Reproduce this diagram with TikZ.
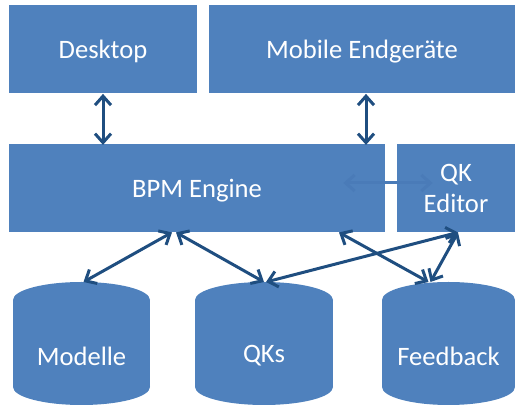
\documentclass[tikz,border=0pt]{standalone}
\usepackage{fontspec}
\setmainfont{Carlito}
\usetikzlibrary{arrows.meta}
\definecolor{boxblue}{HTML}{4F81BD}
\definecolor{linkblue}{HTML}{1F4E80}
\definecolor{fadeblue}{HTML}{4A7BB8}
\begin{document}
\begin{tikzpicture}[x=0.5pt, y=-0.5pt, font=\fontsize{13.3}{15.5}\selectfont, line join=round, line cap=round,
	box/.style={fill=boxblue, text=white, align=center, inner sep=0pt, text depth=0pt, minimum height=44pt},
	link/.style={draw=linkblue, line width=1.5pt, {Straight Barb[length=4.5pt,width=8pt]}-{Straight Barb[length=4.5pt,width=8pt]}}]
	\useasboundingbox (0,0) rectangle (515,406);
	\node[box, minimum width=94pt] (desk) at (103,49.5) {Desktop};
	\node[box, minimum width=153pt] (mob) at (362,49.5) {Mobile Endgeräte};
	\node[box, minimum width=188pt] (bpm) at (197,188) {BPM Engine};
	\node[box, minimum width=59pt] (qked) at (456,188) {QK\\Editor};
	\foreach \nm/\x/\w/\t in {mod/81.5/137/Modelle, qks/264/138/QKs, fb/448.5/133/Feedback} {
		\fill[boxblue] (\x-\w/2,300) rectangle (\x+\w/2,387);
		\fill[boxblue] (\x,300) ellipse [x radius=\w/2, y radius=18];
		\fill[boxblue] (\x,387) ellipse [x radius=\w/2, y radius=18];
		\node[text=white] (\nm) at (\x,356) {\t};
		\coordinate (\nm-top) at (\x,282);}
	\draw[link] (desk.south) -- ++(0,51);
	\draw[link] ([xshift=2pt]mob.south) -- ++(0,51);
	\draw[link, draw=fadeblue] ([xshift=-21pt,yshift=2.5pt]bpm.east) -- ([xshift=18pt,yshift=2.5pt]qked.west);
	\draw[link] ([xshift=-12.5pt]bpm.south) -- ([xshift=1pt]mod-top);
	\draw[link] ([xshift=-10.5pt]bpm.south) -- (qks-top);
	\draw[link] ([xshift=71pt]bpm.south) -- ([xshift=-10pt]fb-top);
	\draw[link] ([xshift=1pt]qked.south) -- ([xshift=1pt]qks-top);
	\draw[link] ([xshift=1pt]qked.south) -- ([xshift=-9pt]fb-top);
\end{tikzpicture}
\end{document}
